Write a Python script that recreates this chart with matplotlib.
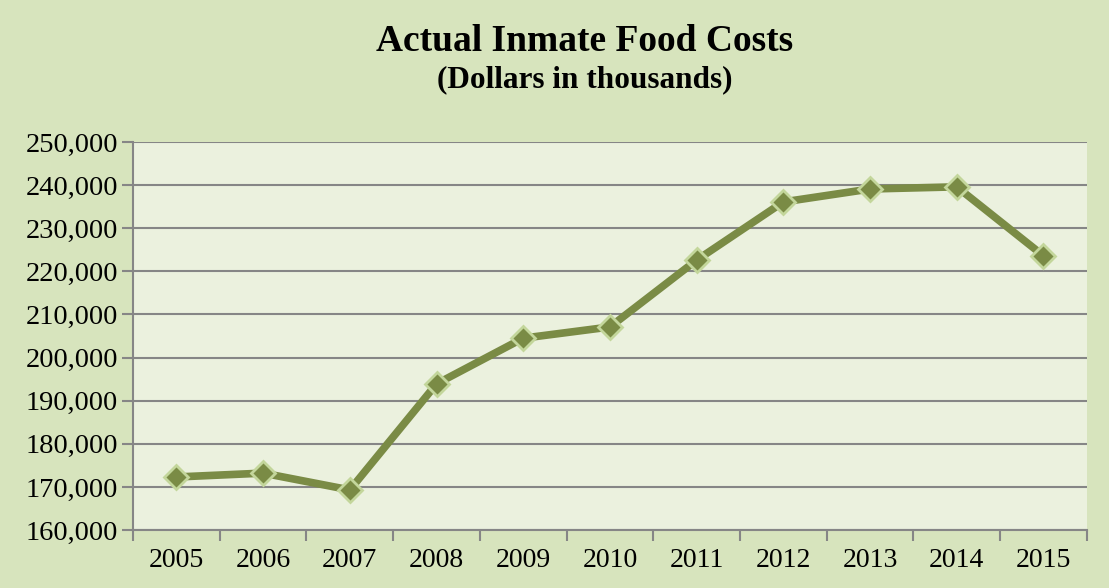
import matplotlib
matplotlib.use("Agg")
import matplotlib.pyplot as plt
from matplotlib.ticker import FuncFormatter, MultipleLocator

years = ["2005", "2006", "2007", "2008", "2009", "2010",
         "2011", "2012", "2013", "2014", "2015"]
costs = [172300, 173200, 169300, 193900, 204500, 207100,
         222600, 236100, 239100, 239600, 223600]

plt.rcParams['font.family'] = ['Liberation Serif', 'DejaVu Serif']

fig = plt.figure(figsize=(11.09, 5.88), dpi=100)
fig.patch.set_facecolor("#D7E4BD")
ax = fig.add_axes([0.12, 0.0986, 0.860, 0.6599])
ax.set_facecolor("#EBF1DE")

x = list(range(len(years)))
ax.plot(x, costs, color="#7A8B45", linewidth=5.5, marker="D", markersize=12.5,
        markerfacecolor="#7A8B45", markeredgecolor="#C3D69B",
        markeredgewidth=2, zorder=3, solid_joinstyle="round")

ax.set_ylim(160000, 250000)
ax.set_xlim(-0.5, len(years) - 0.5)
ax.yaxis.set_major_locator(MultipleLocator(10000))
ax.yaxis.set_major_formatter(FuncFormatter(lambda v, p: f"{int(v):,}"))
ax.grid(axis="y", color="#868686", linewidth=1.5)
ax.set_axisbelow(True)

ax.set_xticks(x)
ax.set_xticklabels(years)
ax.set_xticks([i - 0.5 for i in range(len(years) + 1)], minor=True)
ax.tick_params(axis="x", which="major", length=0, labelsize=20, pad=13)
ax.tick_params(axis="x", which="minor", length=8, color="#868686", width=1.5)
ax.tick_params(axis="y", length=8, color="#868686", width=1.5, labelsize=20.5, pad=3)

for s in ["top", "right"]:
    ax.spines[s].set_visible(False)
for s in ["left", "bottom"]:
    ax.spines[s].set_color("#868686")
    ax.spines[s].set_linewidth(1.5)

fig.text(0.5275, 0.930, "Actual Inmate Food Costs", ha="center", va="center",
         fontsize=27, fontweight="bold")
fig.text(0.5275, 0.864, "(Dollars in thousands)", ha="center", va="center",
         fontsize=22.5, fontweight="bold")

fig.savefig("out.png", dpi=100, facecolor=fig.get_facecolor())
